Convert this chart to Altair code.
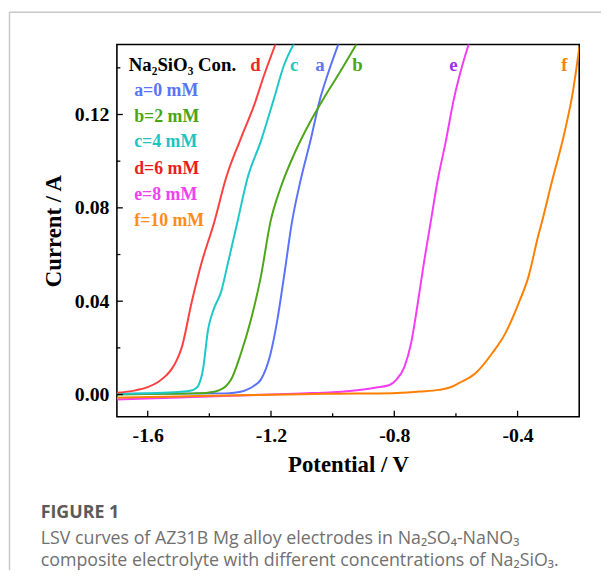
import altair as alt
import pandas as pd

# ---- data (Potential / V, Current / A) ----
a_v = [-1.72, -1.50, -1.35, -1.319, -1.295, -1.2762, -1.255, -1.2334, -1.2013, -1.1797, -1.1582, -1.1315, -1.1048, -1.0727, -1.0405, -1.0135, -0.9813]
a_i = [0.0003, 0.0004, 0.0005, 0.0008, 0.0013, 0.0022, 0.0038, 0.0063, 0.0176, 0.0318, 0.0502, 0.0743, 0.0914, 0.1084, 0.1268, 0.1382, 0.1502]

b_v = [-1.72, -1.55, -1.45, -1.405, -1.38, -1.362, -1.345, -1.33, -1.2977, -1.2656, -1.2334, -1.2013, -1.1691, -1.126, -1.0727, -1.0296, -0.9762, -0.9225]
b_i = [0.0000, 0.0003, 0.0005, 0.0008, 0.0013, 0.0022, 0.0038, 0.0063, 0.0176, 0.0318, 0.0502, 0.0743, 0.0885, 0.1027, 0.1169, 0.1268, 0.1382, 0.1502]

c_v = [-1.72, -1.60, -1.50, -1.4585, -1.445, -1.437, -1.421, -1.404, -1.386, -1.362, -1.3405, -1.3084, -1.2762, -1.2334, -1.1904, -1.1582, -1.126]
c_i = [0.0002, 0.0006, 0.0011, 0.0017, 0.0026, 0.0036, 0.0105, 0.0280, 0.0365, 0.0440, 0.0559, 0.0743, 0.0928, 0.1084, 0.1268, 0.1410, 0.1502]

d_v = [-1.72, -1.64, -1.60, -1.565, -1.54, -1.523, -1.505, -1.49, -1.4585, -1.4264, -1.3833, -1.346, -1.2977, -1.2547, -1.2225, -1.1852]
d_i = [0.0006, 0.0018, 0.0032, 0.0055, 0.0082, 0.0108, 0.0150, 0.0200, 0.0389, 0.0559, 0.0743, 0.0928, 0.1098, 0.1240, 0.1368, 0.1502]

e_v = [-1.72, -1.50, -1.30, -1.10, -1.00, -0.90, -0.8585, -0.8154, -0.7939, -0.7672, -0.7457, -0.7241, -0.7029, -0.6814, -0.6598, -0.6331, -0.6064, -0.5794, -0.5582]
e_i = [-0.0022, -0.0013, -0.0004, 0.0005, 0.0010, 0.0022, 0.0030, 0.0041, 0.0063, 0.0119, 0.0219, 0.0389, 0.0573, 0.0743, 0.0914, 0.1084, 0.1268, 0.1410, 0.1502]

f_v = [-1.72, -1.50, -1.30, -1.10, -1.019, -0.8045, -0.719, -0.6547, -0.62, -0.5904, -0.5367, -0.483, -0.4402, -0.3974, -0.3653, -0.333, -0.317, -0.29, -0.2472, -0.2206, -0.199]
f_i = [-0.0014, -0.0008, -0.0003, 0.0001, 0.0003, 0.0006, 0.0013, 0.0020, 0.0030, 0.0049, 0.0091, 0.0176, 0.0261, 0.0389, 0.0502, 0.0680, 0.0760, 0.0905, 0.1126, 0.1297, 0.1495]

series_keys = ["a", "b", "c", "d", "e", "f"]
legend_labels = ["a=0 mM", "b=2 mM", "c=4 mM", "d=6 mM", "e=8 mM", "f=10 mM"]
line_colors = ["#5B73FA", "#4DA619", "#1FC8C8", "#FF4040", "#F53CF5", "#FF7F00"]
legend_colors = ["#5B73F5", "#4AA512", "#1CC4C4", "#E81E1E", "#F040F0", "#FF8C1A"]
letter_colors = {"a": "#5B78F5", "b": "#4CA514", "c": "#1EC8C8", "d": "#F02828", "e": "#A030F0", "f": "#FF7F0E"}

x_major = [-1.6, -1.2, -0.8, -0.4]
x_minor = [-1.4, -1.0, -0.6]
y_major = [0.0, 0.04, 0.08, 0.12]
y_minor = [0.02, 0.06, 0.10, 0.14]

series_v = [a_v, b_v, c_v, d_v, e_v, f_v]
series_i = [a_i, b_i, c_i, d_i, e_i, f_i]

rows = []
for k, vs, cs in zip(series_keys, series_v, series_i):
    for v, c in zip(vs, cs):
        rows.append({"series": k, "V": v, "I": c})
df = pd.DataFrame(rows)

W, H = 467, 376
SERIF = "Liberation Serif"

xs = alt.Scale(domain=[-1.7, -0.2], nice=False, zero=False)
ys = alt.Scale(domain=[-0.0095, 0.15], nice=False, zero=False)

lines = alt.Chart(df).mark_line(strokeWidth=2, clip=True, interpolate="monotone").encode(
    x=alt.X("V:Q", scale=xs, title="Potential / V",
            axis=alt.Axis(values=x_major, labelExpr="replace(format(datum.value, '.1f'), '−', '-')",
                          labelPadding=9, titlePadding=8)),
    y=alt.Y("I:Q", scale=ys, title="Current / A",
            axis=alt.Axis(values=y_major, format=".2f", labelPadding=8, titlePadding=9)),
    color=alt.Color("series:N", scale=alt.Scale(domain=series_keys, range=line_colors), legend=None),
    order=alt.Order("V:Q"),
)

def tick_layer(vals, axis, length):
    d = pd.DataFrame({"t": vals})
    if axis == "x":
        return alt.Chart(d).mark_rule(color="black", strokeWidth=1.3).encode(
            x=alt.X("t:Q", scale=xs), y=alt.value(H), y2=alt.value(H - length))
    return alt.Chart(d).mark_rule(color="black", strokeWidth=1.3).encode(
        y=alt.Y("t:Q", scale=ys), x=alt.value(0), x2=alt.value(length))

layers = [lines,
          tick_layer(x_major, "x", 6), tick_layer(x_minor, "x", 3.5),
          tick_layer(y_major, "y", 6), tick_layer(y_minor, "y", 3.5)]

one = alt.Data(values=[{}])

def txt(text, x, y, color="black", size=17, align="left", font=SERIF, weight="bold"):
    return alt.Chart(one).mark_text(text=text, align=align, baseline="middle", font=font,
                                    fontSize=size, fontWeight=weight, color=color).encode(
        x=alt.value(x), y=alt.value(y))

# legend block
layers.append(txt("Na₂SiO₃ Con.", 12, 21, size=19))
legend_y = [47, 73, 99, 125.5, 152, 178]
for lab, col, yy in zip(legend_labels, legend_colors, legend_y):
    layers.append(txt(lab, 17.5, yy, color=col, size=18))

# curve letters
letter_x = {"d": 140, "c": 179, "a": 205, "b": 243, "e": 340, "f": 452}
for k, xx in letter_x.items():
    layers.append(txt(k, xx, 21, color=letter_colors[k], size=19, align="center"))

# caption
CAP = "Open Sans"
layers.append(txt("FIGURE 1", -77, 473, color="#5a5a5a", size=18, font=CAP, weight="bold"))
layers.append(txt("LSV curves of AZ31B Mg alloy electrodes in Na₂SO₄-NaNO₃", -77, 500,
                  color="#707070", size=18, font=CAP, weight="normal"))
layers.append(txt("composite electrolyte with different concentrations of Na₂SiO₃.", -77, 522,
                  color="#707070", size=18, font=CAP, weight="normal"))

# card border (top and left)
layers.append(alt.Chart(one).mark_rule(color="#c8c8c8", strokeWidth=1.5).encode(
    x=alt.value(-108.5), x2=alt.value(490), y=alt.value(-32.5)))
layers.append(alt.Chart(one).mark_rule(color="#c8c8c8", strokeWidth=1.5).encode(
    x=alt.value(-108.5), y=alt.value(-32.5), y2=alt.value(531)))

chart = alt.layer(*layers).properties(
    width=W, height=H,
    autosize=alt.AutoSizeParams(type="none"),
    padding={"left": 110, "top": 34, "right": 22, "bottom": 155},
).configure_view(
    stroke="black", strokeWidth=1.6
).configure_axis(
    domain=False, ticks=False, grid=False,
    labelFont=SERIF, labelFontWeight="bold", labelFontSize=20, labelColor="black",
    titleFont=SERIF, titleFontWeight="bold", titleFontSize=23, titleColor="black",
)

chart.save("out.html", embed_options={"renderer": "svg", "actions": False})
